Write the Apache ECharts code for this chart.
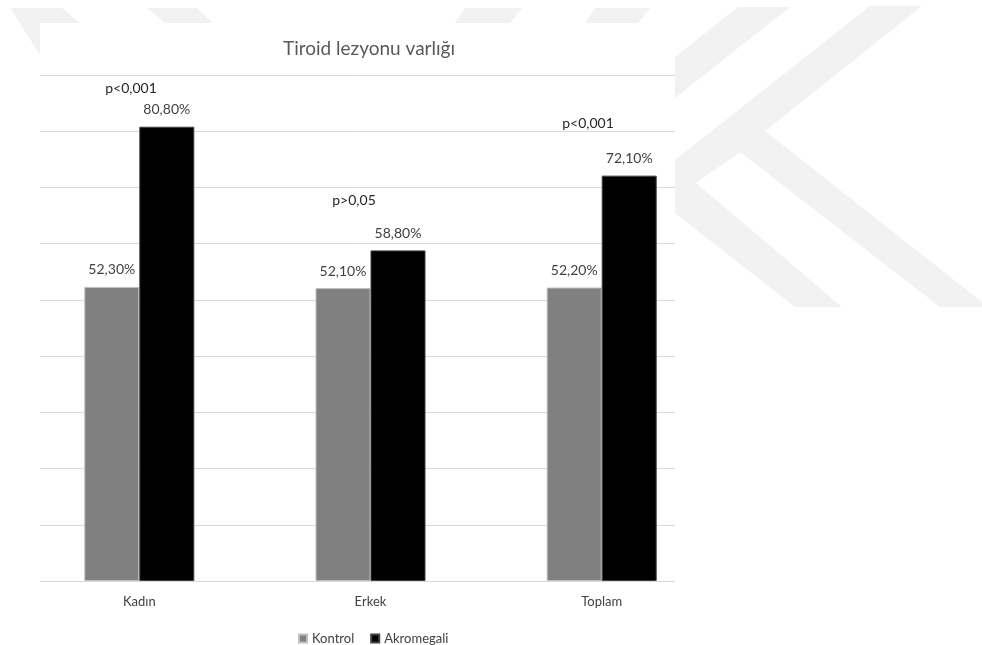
<!DOCTYPE html>
<html>
<head>
<meta charset="utf-8">
<script src="https://cdn.jsdelivr.net/npm/echarts@6/dist/echarts.min.js"></script>
<style>
html,body{margin:0;padding:0;background:#fff;}
#chart{width:982px;height:645px;}
</style>
</head>
<body>
<div id="chart"></div>
<script>
const categories = ['Kadın', 'Erkek', 'Toplam'];
const kontrol = [52.3, 52.1, 52.2];
const akromegali = [80.8, 58.8, 72.1];
const pValues = ['p<0,001', 'p>0,05', 'p<0,001'];
const yTicks = [0, 10, 20, 30, 40, 50, 60, 70, 80, 90];

const FONT = 'Lato, "Open Sans", sans-serif';
const WM = '#f2f2f2';

function fmt(v) { return v.toFixed(2).replace('.', ',') + '%'; }

const chart = echarts.init(document.getElementById('chart'), null, {renderer: 'canvas'});

const watermark = [
  [[675,160],[870,6],[922,6],[765,131],[982,302],[982,307],[940,307],[740,152],[696,183],[842,307],[795,307],[675,213]],
  [[675,57],[738,7],[790,7],[675,98]],
  [[10,8],[62,8],[100,40],[40,55]],
  [[147,8],[197,8],[213,23],[165,23]],
  [[465,8],[522,8],[510,23],[455,23]],
  [[595,8],[650,8],[638,23],[585,23]]
].map(pts => ({type:'polygon', z:-10, silent:true, shape:{points:pts}, style:{fill:WM}}));

const pPos = [[131,88],[354,200],[588,123]];
const pTexts = pValues.map((t, i) => ({
  type:'text', z:10, x:pPos[i][0], y:pPos[i][1],
  style:{text:t, fill:'#262626', font:'14px ' + FONT, textAlign:'center', textVerticalAlign:'middle'}
}));

chart.setOption({
  animation: false,
  backgroundColor: '#fff',
  textStyle: {fontFamily: FONT},
  title: {
    text: 'Tiroid lezyonu varlığı',
    left: 364, top: 34, textAlign: 'center',
    textStyle: {fontSize: 19, fontWeight: 'normal', color: '#595959', fontFamily: FONT}
  },
  graphic: [].concat(watermark, [
    {type:'rect', z:-9, silent:true, shape:{x:40, y:23, width:635, height:622}, style:{fill:'#fff'}}
  ], pTexts),
  legend: {
    data: ['Kontrol', 'Akromegali'],
    left: 293, top: 627,
    icon: 'rect', itemWidth: 8, itemHeight: 8, itemGap: 16,
    textStyle: {fontSize: 13, color: '#404040', fontFamily: FONT}
  },
  grid: [
    {left: 23.7, right: 264.7, top: 75, bottom: 64},
    {left: 40, right: 307, top: 75, bottom: 64}
  ],
  xAxis: [
    {type: 'category', gridIndex: 0, data: categories,
     axisLine: {show: false}, axisTick: {show: false},
     axisLabel: {color: '#404040', fontSize: 13, margin: 14, fontFamily: FONT}},
    {type: 'value', gridIndex: 1, min: 0, max: 1, show: false}
  ],
  yAxis: [
    {type: 'value', gridIndex: 0, min: yTicks[0], max: yTicks[yTicks.length-1], interval: yTicks[1]-yTicks[0],
     axisLabel: {show: false}, axisLine: {show: false}, axisTick: {show: false}, splitLine: {show: false}},
    {type: 'value', gridIndex: 1, min: yTicks[0], max: yTicks[yTicks.length-1], interval: yTicks[1]-yTicks[0],
     axisLabel: {show: false}, axisLine: {show: false}, axisTick: {show: false},
     splitLine: {show: true, lineStyle: {color: '#d9d9d9', width: 1}}}
  ],
  series: [
    {name: 'Kontrol', type: 'bar', xAxisIndex: 0, yAxisIndex: 0, data: kontrol,
     barWidth: 55, barGap: '0%',
     itemStyle: {color: '#808080', borderColor: '#bfbfbf', borderWidth: 1},
     label: {show: true, position: 'top', distance: 10, color: '#404040', fontSize: 14, fontFamily: FONT,
             formatter: p => fmt(p.value)}},
    {name: 'Akromegali', type: 'bar', xAxisIndex: 0, yAxisIndex: 0, data: akromegali,
     barWidth: 55, barGap: '0%',
     itemStyle: {color: '#000000', borderColor: '#404040', borderWidth: 1},
     label: {show: true, position: 'top', distance: 10, color: '#404040', fontSize: 14, fontFamily: FONT,
             formatter: p => fmt(p.value)}}
  ]
});
</script>
</body>
</html>
